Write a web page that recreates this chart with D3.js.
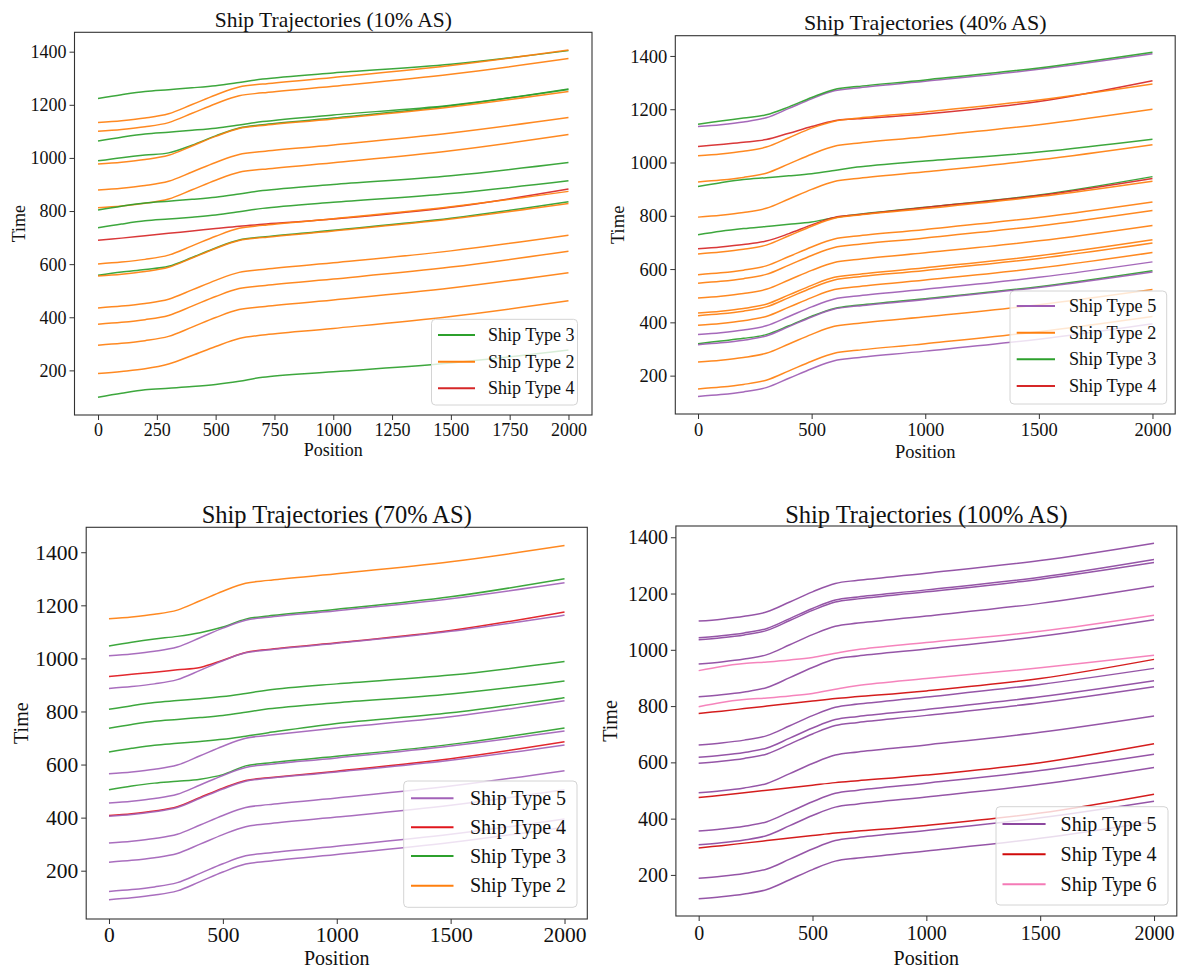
<!DOCTYPE html>
<html><head><meta charset="utf-8">
<script src="https://cdn.jsdelivr.net/npm/d3@7"></script>
<style>
body{margin:0;background:#fff;}
svg{display:block;}
text{font-family:"Liberation Serif","Times New Roman",serif;fill:#111;}
</style>
</head><body>
<svg id="c" width="1178" height="971"></svg>
<script>
// ---------- DATA ----------
const positions = [0, 100, 200, 300, 400, 500, 600, 700, 1000, 1500, 2000];

const p1Title = "Ship Trajectories (10% AS)";
const p1XTicks = [0, 250, 500, 750, 1000, 1250, 1500, 1750, 2000];
const p1YTicks = [200, 400, 600, 800, 1000, 1200, 1400];
const p1Legend = [3, 2, 4];
const p1Types = [3, 2, 2, 3, 3, 2, 2, 2, 3, 3, 4, 2, 3, 2, 2, 2, 2, 2, 3];
const p1Times = [
  [1224,1238,1250,1257,1264,1272,1284,1297,1320,1353,1404],
  [1133,1140,1150,1166,1201,1237,1267,1278,1303,1348,1406],
  [1100,1107,1117,1133,1168,1204,1234,1245,1270,1315,1374],
  [1064,1078,1090,1097,1104,1112,1124,1137,1162,1198,1258],
  [989,1001,1011,1019,1048,1083,1113,1125,1150,1196,1260],
  [977,984,994,1010,1045,1081,1111,1122,1147,1192,1250],
  [879,886,896,912,947,983,1013,1024,1049,1094,1152],
  [812,819,829,845,880,916,946,957,982,1027,1088],
  [804,818,830,837,844,852,864,877,900,933,983],
  [737,751,763,770,777,785,797,810,833,866,914],
  [690,698,707,716,725,734,743,750,770,814,883],
  [601,608,618,634,669,705,735,746,771,816,874],
  [558,570,580,592,625,661,691,702,728,773,835],
  [555,562,572,588,623,659,689,700,725,770,828],
  [435,442,452,468,503,539,569,580,605,650,709],
  [374,381,391,407,442,478,508,519,544,589,649],
  [295,302,312,328,363,399,429,440,465,510,568],
  [188,196,206,224,256,290,320,333,358,403,462],
  [99,114,127,133,139,147,159,174,195,228,277]
];

const p2Title = "Ship Trajectories (40% AS)";
const p2XTicks = [0, 500, 1000, 1500, 2000];
const p2YTicks = [200, 400, 600, 800, 1000, 1200, 1400];
const p2Legend = [5, 2, 3, 4];
const p2Types = [5, 3, 4, 2, 2, 3, 2, 3, 4, 2, 2, 2, 2, 2, 2, 2, 5, 3, 5, 2, 2, 5];
const p2Times = [
  [1135,1142,1152,1168,1203,1239,1269,1280,1305,1350,1408],
  [1144,1156,1167,1179,1209,1244,1274,1285,1310,1355,1414],
  [1060,1068,1076,1086,1110,1135,1157,1164,1182,1229,1307],
  [1025,1032,1042,1058,1093,1129,1155,1166,1190,1235,1295],
  [927,934,944,960,995,1031,1061,1072,1097,1142,1200],
  [910,924,936,943,950,958,970,983,1006,1039,1087],
  [795,802,812,828,863,899,929,940,965,1010,1067],
  [729,742,752,760,768,777,793,805,832,878,947],
  [676,683,692,705,733,766,794,804,831,876,940],
  [657,664,674,690,725,761,791,802,827,872,930],
  [579,586,596,612,647,683,713,724,749,794,852],
  [547,554,564,580,615,651,681,692,717,762,820],
  [491,498,508,524,559,595,625,636,661,706,764],
  [435,442,452,468,503,539,569,580,605,650,710],
  [425,432,442,458,493,529,559,570,595,640,698],
  [389,396,406,422,457,493,523,534,559,604,662],
  [354,361,371,387,422,458,488,499,524,569,627],
  [320,330,340,354,387,423,452,464,489,534,594],
  [316,323,333,349,384,420,450,461,486,531,589],
  [251,258,268,284,319,355,385,396,421,466,523],
  [150,157,167,183,218,254,284,295,320,365,422],
  [122,129,139,155,190,226,256,267,292,337,395]
];

const p3Title = "Ship Trajectories (70% AS)";
const p3XTicks = [0, 500, 1000, 1500, 2000];
const p3YTicks = [200, 400, 600, 800, 1000, 1200, 1400];
const p3Legend = [5, 4, 3, 2];
const p3Types = [2, 3, 5, 4, 5, 3, 3, 3, 5, 3, 5, 4, 5, 5, 5, 5, 5];
const p3Times = [
  [1149,1156,1166,1182,1217,1253,1283,1294,1319,1364,1425],
  [1047,1061,1073,1083,1097,1118,1148,1160,1185,1232,1300],
  [1010,1017,1027,1043,1078,1114,1144,1155,1180,1225,1285],
  [932,940,948,957,966,993,1022,1034,1059,1105,1175],
  [887,894,904,920,955,991,1021,1032,1057,1102,1163],
  [808,822,834,841,848,856,868,881,904,937,988],
  [737,751,763,770,777,785,797,810,833,866,915],
  [647,661,673,680,687,695,707,720,755,795,852],
  [565,572,582,598,633,669,699,710,738,780,840],
  [505,519,530,537,545,562,595,606,631,676,738],
  [455,462,472,488,523,559,589,600,625,670,726],
  [408,415,425,441,476,511,540,550,575,622,686],
  [405,412,422,438,473,508,537,548,572,616,674],
  [304,311,321,337,372,408,438,449,474,519,577],
  [232,239,249,265,300,336,366,377,402,447,505],
  [122,129,139,155,190,226,256,267,292,337,395],
  [91,98,108,124,159,195,225,236,261,306,364]
];

const p4Title = "Ship Trajectories (100% AS)";
const p4XTicks = [0, 500, 1000, 1500, 2000];
const p4YTicks = [200, 400, 600, 800, 1000, 1200, 1400];
const p4Legend = [5, 4, 6];
const p4Types = [5, 5, 5, 5, 6, 5, 6, 4, 5, 5, 5, 5, 4, 5, 5, 4, 5, 5];
const p4Times = [
  [1102,1109,1119,1135,1170,1206,1236,1247,1272,1317,1379],
  [1043,1050,1060,1076,1111,1147,1177,1188,1213,1258,1321],
  [1036,1043,1053,1069,1104,1140,1170,1181,1206,1251,1310],
  [950,957,967,983,1018,1054,1084,1095,1120,1165,1226],
  [926,941,951,957,964,973,988,1001,1026,1066,1123],
  [833,840,850,866,901,937,967,978,1003,1048,1107],
  [798,813,823,829,836,845,860,873,898,936,981],
  [774,782,791,800,809,818,827,834,854,898,966],
  [662,669,679,695,730,766,796,807,832,877,934],
  [618,625,635,651,686,722,752,763,788,833,890],
  [597,604,614,630,665,701,731,742,767,812,869],
  [492,499,509,525,560,596,626,637,662,707,765],
  [475,483,492,501,510,519,528,535,555,599,666],
  [356,363,373,389,424,460,490,501,526,571,629],
  [307,314,324,340,375,411,441,452,477,522,582],
  [296,304,313,322,331,340,349,356,376,420,487],
  [188,195,205,221,256,292,322,333,358,403,462],
  [115,122,132,148,183,219,249,260,285,330,390]
];

// ---------- STYLE / LAYOUT ----------
const baseColors = {2:"#ff7f0e", 3:"#2ca02c", 4:"#d62728", 5:"#9d5cb4", 6:"#f47ab6"};

const panels = [
  {title:p1Title, xTicks:p1XTicks, yTicks:p1YTicks, legend:p1Legend, types:p1Types, times:p1Times,
   x0:74.5, x1:592, y0:32.3, y1:415, yDom:[32,1473],
   titleY:27, titleFs:21.5, tickFs:18, labFs:18, posY:456, timeX:19,
   xTickDy:21, leg:{x0:431.5, x1:577.5, y0:319.3, y1:405, rows:[335,361.7,388.3], hx0:438, hx1:475, tx:488, fs:18},
   colors:{}},
  {title:p2Title, xTicks:p2XTicks, yTicks:p2YTicks, legend:p2Legend, types:p2Types, times:p2Times,
   x0:675.3, x1:1175.2, y0:35.7, y1:414, yDom:[56,1476],
   titleY:30, titleFs:22, tickFs:18.5, labFs:18.5, posY:458, timeX:618,
   xTickDy:22, leg:{x0:1010, x1:1166.7, y0:291, y1:404, rows:[306,332.7,359.3,386], hx0:1016.7, hx1:1055, tx:1069, fs:18.2},
   colors:{}},
  {title:p3Title, xTicks:p3XTicks, yTicks:p3YTicks, legend:p3Legend, types:p3Types, times:p3Times,
   x0:86.2, x1:587.3, y0:527.3, y1:919, yDom:[18,1494],
   titleY:522.5, titleFs:24.5, tickFs:21.5, labFs:20, posY:965, timeX:21,
   xTickDy:23, leg:{x0:403.7, x1:577, y0:781, y1:907.3, rows:[798.3,827.3,856,885.7], hx0:411, hx1:453.5, tx:470, fs:20},
   colors:{4:"#e0161c", 5:"#a262b8"}},
  {title:p4Title, xTicks:p4XTicks, yTicks:p4YTicks, legend:p4Legend, types:p4Types, times:p4Times,
   x0:675.9, x1:1176.8, y0:526, y1:916, yDom:[54,1440],
   titleY:522.5, titleFs:24.5, tickFs:20, labFs:20, posY:965, timeX:610,
   xTickDy:24, leg:{x0:996, x1:1168, y0:806.7, y1:905, rows:[824,854.3,884.3], hx0:1002.5, hx1:1045.6, tx:1060.6, fs:20},
   colors:{4:"#d00a0a", 5:"#8c479f", 6:"#f47ab6"}}
];

const svg = d3.select("#c");
svg.append("rect").attr("width",1178).attr("height",971).attr("fill","#fff");

panels.forEach(p => {
  const g = svg.append("g");
  const x = d3.scaleLinear().domain([-100, 2100]).range([p.x0, p.x1]);
  const y = d3.scaleLinear().domain(p.yDom).range([p.y1, p.y0]);
  const col = t => p.colors[t] || baseColors[t];

  const clipId = "clip" + Math.round(p.x0) + "_" + Math.round(p.y0);
  g.append("clipPath").attr("id", clipId).append("rect")
    .attr("x", p.x0).attr("y", p.y0).attr("width", p.x1 - p.x0).attr("height", p.y1 - p.y0);

  const line = d3.line().x((d,i) => x(positions[i])).y(d => y(d)).curve(d3.curveCatmullRom.alpha(0.5));
  const lg = g.append("g").attr("clip-path", `url(#${clipId})`);
  p.times.forEach((ser, k) => {
    lg.append("path").attr("d", line(ser)).attr("fill","none")
      .attr("stroke", col(p.types[k])).attr("stroke-width", 1.5)
      .attr("stroke-opacity", 0.92).attr("stroke-linejoin","round");
  });

  // axes
  const xa = g.append("g").attr("transform", `translate(0,${p.y1})`)
    .call(d3.axisBottom(x).tickValues(p.xTicks).tickSize(5).tickPadding(3).tickFormat(d3.format("d")));
  const ya = g.append("g").attr("transform", `translate(${p.x0},0)`)
    .call(d3.axisLeft(y).tickValues(p.yTicks).tickSize(5).tickPadding(3).tickFormat(d3.format("d")));
  [xa, ya].forEach(a => {
    a.select(".domain").remove();
    a.selectAll(".tick line").attr("stroke","#333").attr("stroke-width",1);
    a.selectAll(".tick text").attr("font-family",'"Liberation Serif",serif')
      .attr("font-size", p.tickFs).attr("fill","#111");
  });
  xa.selectAll(".tick text").attr("dy", null).attr("y", p.xTickDy);
  ya.selectAll(".tick text").attr("dy", "0.33em").attr("x", -8);

  g.append("rect").attr("x", p.x0).attr("y", p.y0).attr("width", p.x1 - p.x0).attr("height", p.y1 - p.y0)
    .attr("fill","none").attr("stroke","#333").attr("stroke-width",1.1);

  // title & labels
  g.append("text").attr("x", (p.x0 + p.x1)/2).attr("y", p.titleY).attr("text-anchor","middle")
    .attr("font-size", p.titleFs).text(p.title);
  g.append("text").attr("x", (p.x0 + p.x1)/2).attr("y", p.posY).attr("text-anchor","middle")
    .attr("font-size", p.labFs).text("Position");
  g.append("text").attr("transform", `translate(${p.timeX},${(p.y0 + p.y1)/2}) rotate(-90)`)
    .attr("text-anchor","middle").attr("dy","0.33em").attr("font-size", p.labFs).text("Time");

  // legend
  const L = p.leg;
  g.append("rect").attr("x", L.x0).attr("y", L.y0).attr("width", L.x1 - L.x0).attr("height", L.y1 - L.y0)
    .attr("rx", 4).attr("fill","#fff").attr("fill-opacity",0.8).attr("stroke","#d4d4d4").attr("stroke-width",1);
  p.legend.forEach((t, i) => {
    g.append("line").attr("x1", L.hx0).attr("x2", L.hx1).attr("y1", L.rows[i]).attr("y2", L.rows[i])
      .attr("stroke", col(t)).attr("stroke-width", 2);
    g.append("text").attr("x", L.tx).attr("y", L.rows[i]).attr("dy","0.33em")
      .attr("font-size", L.fs).text("Ship Type " + t);
  });
});
</script>
</body></html>
